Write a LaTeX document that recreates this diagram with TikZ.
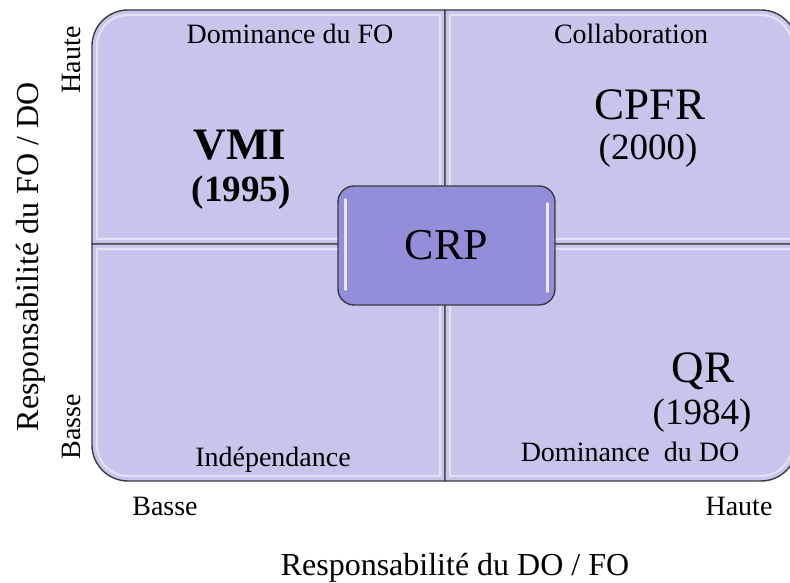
\documentclass[tikz,border=0pt]{standalone}
\usepackage{fontspec}
\setmainfont{Liberation Serif}
\begin{document}
\begin{tikzpicture}[x=1pt,y=1pt,
  quad/.style={fill=quadfill, draw=edgegray, line width=1.4pt},
  gloss/.style={draw=white, line width=2pt, opacity=0.5},
  small/.style={font=\fontsize{28}{30}\selectfont, inner sep=0pt, anchor=base},
  big/.style={font=\fontsize{45}{48}\selectfont, inner sep=0pt, anchor=base},
  year/.style={font=\fontsize{37}{40}\selectfont, inner sep=0pt, anchor=base},
  axis/.style={font=\fontsize{32}{34}\selectfont, inner sep=0pt, anchor=base},
  crpbox/.style={fill=crpfill, draw=edgegray, line width=1.4pt, rounded corners=16pt,
    minimum width=217pt, minimum height=119pt, inner sep=0pt,
    font=\fontsize{44}{46}\selectfont}
]
\definecolor{quadfill}{RGB}{198,198,236}
\definecolor{crpfill}{RGB}{145,142,218}
\definecolor{edgegray}{RGB}{58,58,62}
\clip (0,0) rectangle (790,583);
\fill[white] (0,0) rectangle (790,583);
\def\L{92}\def\R{797}\def\T{573}\def\B{102}\def\MX{445}\def\MY{339}\def\r{36}
% quadrants
\draw[quad] (\MX,\MY) -- (\L,\MY) -- (\L,\T-\r) arc[start angle=180,end angle=90,radius=\r] -- (\MX,\T) -- cycle;
\draw[quad] (\MX,\MY) -- (\MX,\T) -- (\R-\r,\T) arc[start angle=90,end angle=0,radius=\r] -- (\R,\MY) -- cycle;
\draw[quad] (\MX,\MY) -- (\MX,\B) -- (\L+\r,\B) arc[start angle=270,end angle=180,radius=\r] -- (\L,\MY) -- cycle;
\draw[quad] (\MX,\MY) -- (\R,\MY) -- (\R,\B+\r) arc[start angle=0,end angle=-90,radius=\r] -- (\MX,\B) -- cycle;
% gloss highlights
\def\d{5}
\draw[gloss] (\MX-\d,\MY+\d) -- (\L+\d,\MY+\d) -- (\L+\d,\T-\r) arc[start angle=180,end angle=90,radius=\r-\d] -- (\MX-\d,\T-\d) -- cycle;
\draw[gloss] (\MX+\d,\MY+\d) -- (\MX+\d,\T-\d) -- (\R-\r,\T-\d) arc[start angle=90,end angle=0,radius=\r-\d] -- (\R-\d,\MY+\d) -- cycle;
\draw[gloss] (\MX-\d,\MY-\d) -- (\MX-\d,\B+\d) -- (\L+\r,\B+\d) arc[start angle=270,end angle=180,radius=\r-\d] -- (\L+\d,\MY-\d) -- cycle;
\draw[gloss] (\MX+\d,\MY-\d) -- (\R-\d,\MY-\d) -- (\R-\d,\B+\r) arc[start angle=0,end angle=-90,radius=\r-\d] -- (\MX+\d,\B+\d) -- cycle;
% central box
\node[crpbox] (crp) at (446.5,337.5) {CRP};
\draw[draw=white, line width=2.5pt, opacity=0.8, line cap=round] ([xshift=8pt,yshift=-14pt]crp.north west) -- ([xshift=8pt,yshift=16pt]crp.south west);
\draw[draw=white, line width=2.5pt, opacity=0.8, line cap=round] ([xshift=-8pt,yshift=-18pt]crp.north east) -- ([xshift=-8pt,yshift=14pt]crp.south east);
% quadrant labels
\node[small] (dfo) at (290,539) {Dominance du FO};
\node[small] (col) at (631,539) {Collaboration};
\node[big] (cpfr) at (650,463) {CPFR};
\node[year] (y2000) at (648,423) {(2000)};
\node[big, font=\fontsize{45}{48}\selectfont\bfseries] (vmi) at (240,423) {VMI};
\node[year, font=\fontsize{37}{40}\selectfont\bfseries] (y1995) at (241,381) {(1995)};
\node[big] (qr) at (703,200) {QR};
\node[year] (y1984) at (702,158) {(1984)};
\node[small] (ddo) at (630,121) {Dominance\ \ du DO};
\node[small] (ind) at (273,116) {Indépendance};
% axes
\node[small] (xb) at (165,67) {Basse};
\node[small] (xh) at (739,67) {Haute};
\node[axis] (xt) at (455,7) {Responsabilité du DO / FO};
\node[small, rotate=90] (yh) at (80,523) {Haute};
\node[small, rotate=90] (yb) at (80,156) {Basse};
\node[axis, rotate=90] (yt) at (38,326) {Responsabilité du FO / DO};
\end{tikzpicture}
\end{document}
